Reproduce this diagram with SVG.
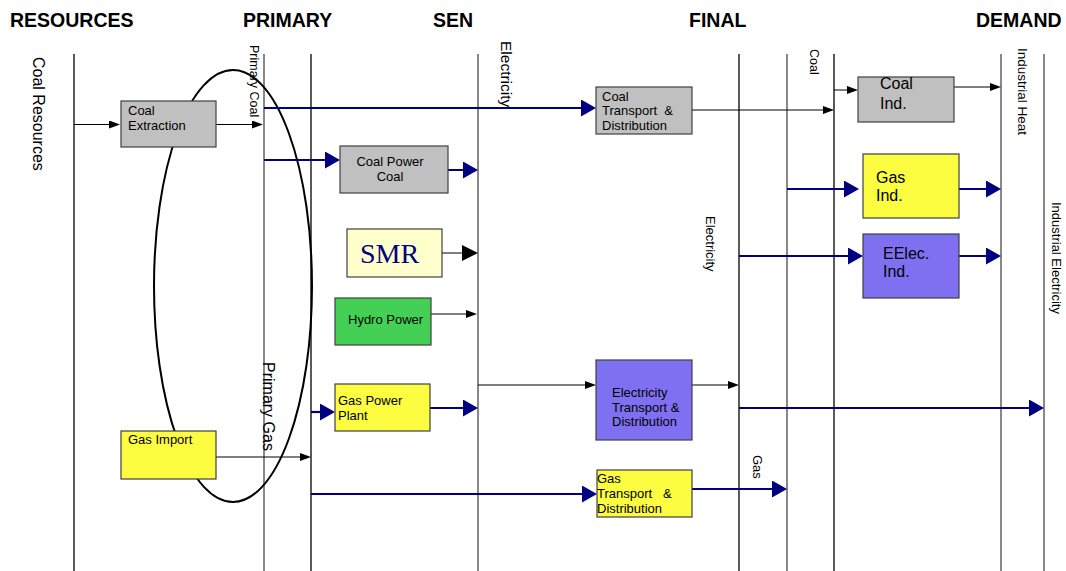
<svg xmlns="http://www.w3.org/2000/svg" width="1066" height="571" viewBox="0 0 1066 571">
<style>
text{font-family:"Liberation Sans",Arial,sans-serif;fill:#000}
.h{font-size:19.5px;font-weight:bold}
.t{font-size:13px}
.b{font-size:16px}
.vb{stroke:#000;stroke-width:1.3}
.vg{stroke:#888;stroke-width:2}
.box{stroke:#404040;stroke-width:1.2}
.gray{fill:#c0c0c0}
.yel{fill:#fcfc40}
.pur{fill:#7e70f0}
.grn{fill:#44d055}
.smr{fill:#ffffcc}
.nv{stroke:#000080;stroke-width:2.2;fill:none}
.bk{stroke:#000;stroke-width:1;fill:none}
</style>
<defs>
<marker id="an" markerUnits="userSpaceOnUse" markerWidth="15" markerHeight="17" refX="10" refY="8.5" orient="auto"><path d="M0,0L15,8.5L0,17z" fill="#000080"/></marker>
<marker id="ab" markerUnits="userSpaceOnUse" markerWidth="11" markerHeight="8" refX="8" refY="4" orient="auto"><path d="M0,0L11,4L0,8z" fill="#000"/></marker>
<marker id="abl" markerUnits="userSpaceOnUse" markerWidth="16" markerHeight="16" refX="12" refY="8" orient="auto"><path d="M0,0L16,8L0,16z" fill="#000"/></marker>
</defs>
<rect width="1066" height="571" fill="#fff"/>
<g id="headings">
<text class="h" x="10" y="27">RESOURCES</text>
<text class="h" x="243" y="27">PRIMARY</text>
<text class="h" x="433" y="27">SEN</text>
<text class="h" x="689" y="27">FINAL</text>
<text class="h" x="976" y="27">DEMAND</text>
</g>
<g id="layers">
<line class="vb" x1="74" y1="54" x2="74" y2="571"/>
<line class="vg" x1="264" y1="54" x2="264" y2="571"/>
<line class="vb" x1="311" y1="54" x2="311" y2="571"/>
<line class="vg" x1="478" y1="54" x2="478" y2="571"/>
<line class="vb" x1="739" y1="54" x2="739" y2="571"/>
<line class="vg" x1="787" y1="54" x2="787" y2="571"/>
<line class="vb" x1="834" y1="54" x2="834" y2="571"/>
<line class="vg" x1="1001" y1="54" x2="1001" y2="571"/>
<line class="vg" x1="1044" y1="54" x2="1044" y2="571"/>
</g>
<g id="layer-labels">
<text class="b" transform="translate(33,57) rotate(90)">Coal Resources</text>
<text style="font-size:12.5px" transform="translate(250,45) rotate(90)">Primary Coal</text>
<text style="font-size:15.5px" transform="translate(501,41) rotate(90)">Electricity</text>
<text class="b" transform="translate(263,362) rotate(90)">Primary Gas</text>
<text style="font-size:12.5px" transform="translate(810,49) rotate(90)">Coal</text>
<text style="font-size:13.5px" transform="translate(1018,48) rotate(90)">Industrial Heat</text>
<text class="t" transform="translate(706,216) rotate(90)">Electricity</text>
<text class="t" transform="translate(1052,202) rotate(90)">Industrial Electricity</text>
<text class="t" transform="translate(753,455) rotate(90)">Gas</text>
</g>
<ellipse id="primary-ellipse" cx="233" cy="286" rx="79" ry="216" fill="none" stroke="#000" stroke-width="2"/>
<g id="connectors">
<line class="bk" x1="74" y1="124.5" x2="117" y2="124.5" marker-end="url(#ab)"/>
<line class="bk" x1="216" y1="124.5" x2="260" y2="124.5" marker-end="url(#ab)"/>
<line class="nv" x1="264" y1="108" x2="591" y2="108" marker-end="url(#an)"/>
<line class="nv" x1="264" y1="160" x2="335" y2="160" marker-end="url(#an)"/>
<line class="nv" x1="435" y1="170" x2="473" y2="170" marker-end="url(#an)"/>
<line class="bk" x1="442" y1="253" x2="474" y2="253" marker-end="url(#abl)"/>
<line class="bk" x1="431" y1="314" x2="474" y2="314" marker-end="url(#ab)"/>
<line class="nv" x1="311" y1="412" x2="330" y2="412" marker-end="url(#an)"/>
<line class="nv" x1="430" y1="408" x2="473" y2="408" marker-end="url(#an)"/>
<line class="bk" x1="216" y1="457" x2="308" y2="457" marker-end="url(#ab)"/>
<line class="nv" x1="311" y1="494" x2="592" y2="494" marker-end="url(#an)"/>
<line class="bk" x1="478" y1="385" x2="593" y2="385" marker-end="url(#ab)"/>
<line class="bk" x1="692" y1="385" x2="736" y2="385" marker-end="url(#ab)"/>
<line class="nv" x1="739" y1="408" x2="1039" y2="408" marker-end="url(#an)"/>
<line class="nv" x1="692" y1="489" x2="782" y2="489" marker-end="url(#an)"/>
<line class="bk" x1="692" y1="110" x2="831" y2="110" marker-end="url(#ab)"/>
<line class="bk" x1="834" y1="90" x2="855" y2="90" marker-end="url(#ab)"/>
<line class="bk" x1="953" y1="87" x2="998" y2="87" marker-end="url(#ab)"/>
<line class="nv" x1="787" y1="189" x2="854" y2="189" marker-end="url(#an)"/>
<line class="nv" x1="954" y1="189" x2="996" y2="189" marker-end="url(#an)"/>
<line class="nv" x1="739" y1="256" x2="858" y2="256" marker-end="url(#an)"/>
<line class="nv" x1="959" y1="256" x2="996" y2="256" marker-end="url(#an)"/>
</g>
<g id="coal-extraction">
<rect class="box gray" x="121" y="101" width="95" height="46"/>
<text class="t" x="128" y="115">Coal</text>
<text class="t" x="128" y="130">Extraction</text>
</g>
<g id="gas-import">
<rect class="box yel" x="121" y="431" width="95" height="48"/>
<text class="t" x="128" y="444">Gas Import</text>
</g>
<g id="coal-power">
<rect class="box gray" x="340" y="146" width="108" height="47"/>
<text class="t" x="390" y="166" text-anchor="middle">Coal Power</text>
<text class="t" x="390" y="181" text-anchor="middle">Coal</text>
</g>
<g id="smr">
<rect class="box smr" x="347" y="229" width="95" height="48"/>
<text x="360" y="263" style="font-family:'Liberation Serif','Times New Roman',serif;font-size:28px;fill:#000080">SMR</text>
</g>
<g id="hydro-power">
<rect class="box grn" x="335" y="298" width="96" height="47"/>
<text class="t" x="348" y="324">Hydro Power</text>
</g>
<g id="gas-power-plant">
<rect class="box yel" x="335" y="384" width="95" height="47"/>
<text class="t" x="338" y="405">Gas Power</text>
<text class="t" x="338" y="420">Plant</text>
</g>
<g id="coal-td">
<rect class="box gray" x="596" y="87" width="96" height="47"/>
<text class="t" x="602" y="101">Coal</text>
<text class="t" x="602" y="115" xml:space="preserve">Transport  &amp;</text>
<text class="t" x="602" y="130">Distribution</text>
</g>
<g id="electricity-td">
<rect class="box pur" x="596" y="360" width="96" height="80"/>
<text class="t" x="612" y="397">Electricity</text>
<text class="t" x="612" y="412">Transport &amp;</text>
<text class="t" x="612" y="426">Distribution</text>
</g>
<g id="gas-td">
<rect class="box yel" x="597" y="470" width="95" height="47"/>
<text class="t" x="597" y="483">Gas</text>
<text class="t" x="597" y="498" xml:space="preserve">Transport   &amp;</text>
<text class="t" x="597" y="513">Distribution</text>
</g>
<g id="coal-ind">
<rect class="box gray" x="858" y="77" width="96" height="45"/>
<text class="b" x="880" y="89">Coal</text>
<text class="b" x="880" y="109">Ind.</text>
</g>
<g id="gas-ind">
<rect class="box yel" x="863" y="154" width="96" height="64"/>
<text class="b" x="876" y="183">Gas</text>
<text class="b" x="876" y="201">Ind.</text>
</g>
<g id="elec-ind">
<rect class="box pur" x="863" y="234" width="96" height="64"/>
<text class="b" x="883" y="259">EElec.</text>
<text class="b" x="883" y="277">Ind.</text>
</g>
</svg>
